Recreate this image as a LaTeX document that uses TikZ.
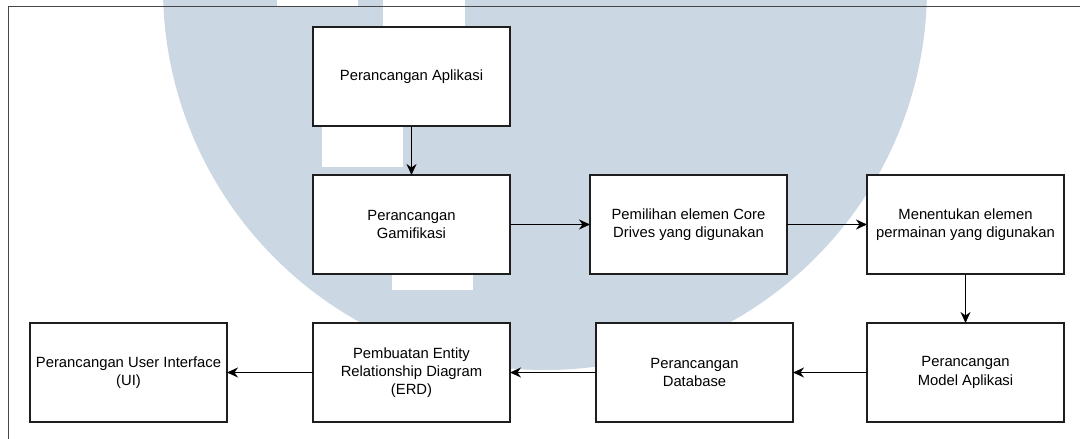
\documentclass[tikz,border=0pt]{standalone}
\usepackage{fontspec}
\setmainfont{Liberation Sans}
\usetikzlibrary{arrows.meta}
\definecolor{markblue}{RGB}{203,216,227}
\definecolor{framegray}{RGB}{70,70,70}
\definecolor{boxline}{RGB}{30,30,30}
\tikzset{
  stepbox/.style={draw=boxline, line width=1.3pt, fill=white, minimum width=197pt,
    minimum height=99pt, inner sep=0pt, outer sep=0pt, align=center,
    font=\fontsize{14.8}{18.3}\selectfont},
  flow/.style={draw=black, line width=1.4pt,
    -{Stealth[length=11pt,width=10pt,inset=3.5pt]}}
}
\begin{document}
\begin{tikzpicture}[x=1pt,y=-1pt]
\useasboundingbox (0,0) rectangle (1080,439);
\fill[white] (0,0) rectangle (1080,439);
\begin{scope}
  \clip (0,0) rectangle (1080,439);
  % background emblem
  \fill[markblue] (545,-12) circle (382);
  \fill[white] (277,0) rectangle (358,6);
  \fill[white] (383,0) rectangle (465,60);
  \fill[white] (322,110) rectangle (403,167);
  \fill[white] (392,250) rectangle (473,290);
  % page frame
  \draw[framegray, line width=1.5pt] (8.7,450) |- (1090,6.7);
\end{scope}

\node[stepbox] (app)    at (411.5,76.5)  {Perancangan Aplikasi};
\node[stepbox] (gami)   at (411.5,224.5) {Perancangan\\Gamifikasi};
\node[stepbox] (core)   at (688.5,224.5) {Pemilihan elemen Core\\Drives yang digunakan};
\node[stepbox] (game)   at (965.5,224.5) {Menentukan elemen\\permainan yang digunakan};
\node[stepbox] (model)  at (965.5,372.5) {Perancangan\\Model Aplikasi};
\node[stepbox] (db)     at (694.5,372.5) {Perancangan\\Database};
\node[stepbox] (erd)    at (411.5,372.5) {Pembuatan Entity\\Relationship Diagram\\(ERD)};
\node[stepbox] (ui)     at (128.5,372.5) {Perancangan User Interface\\(UI)};

\draw[flow] (app) -- (gami);
\draw[flow] (gami) -- (core);
\draw[flow] (core) -- (game);
\draw[flow] (game) -- (model);
\draw[flow] (model) -- (db);
\draw[flow] (db) -- (erd);
\draw[flow] (erd) -- (ui);
\end{tikzpicture}
\end{document}
